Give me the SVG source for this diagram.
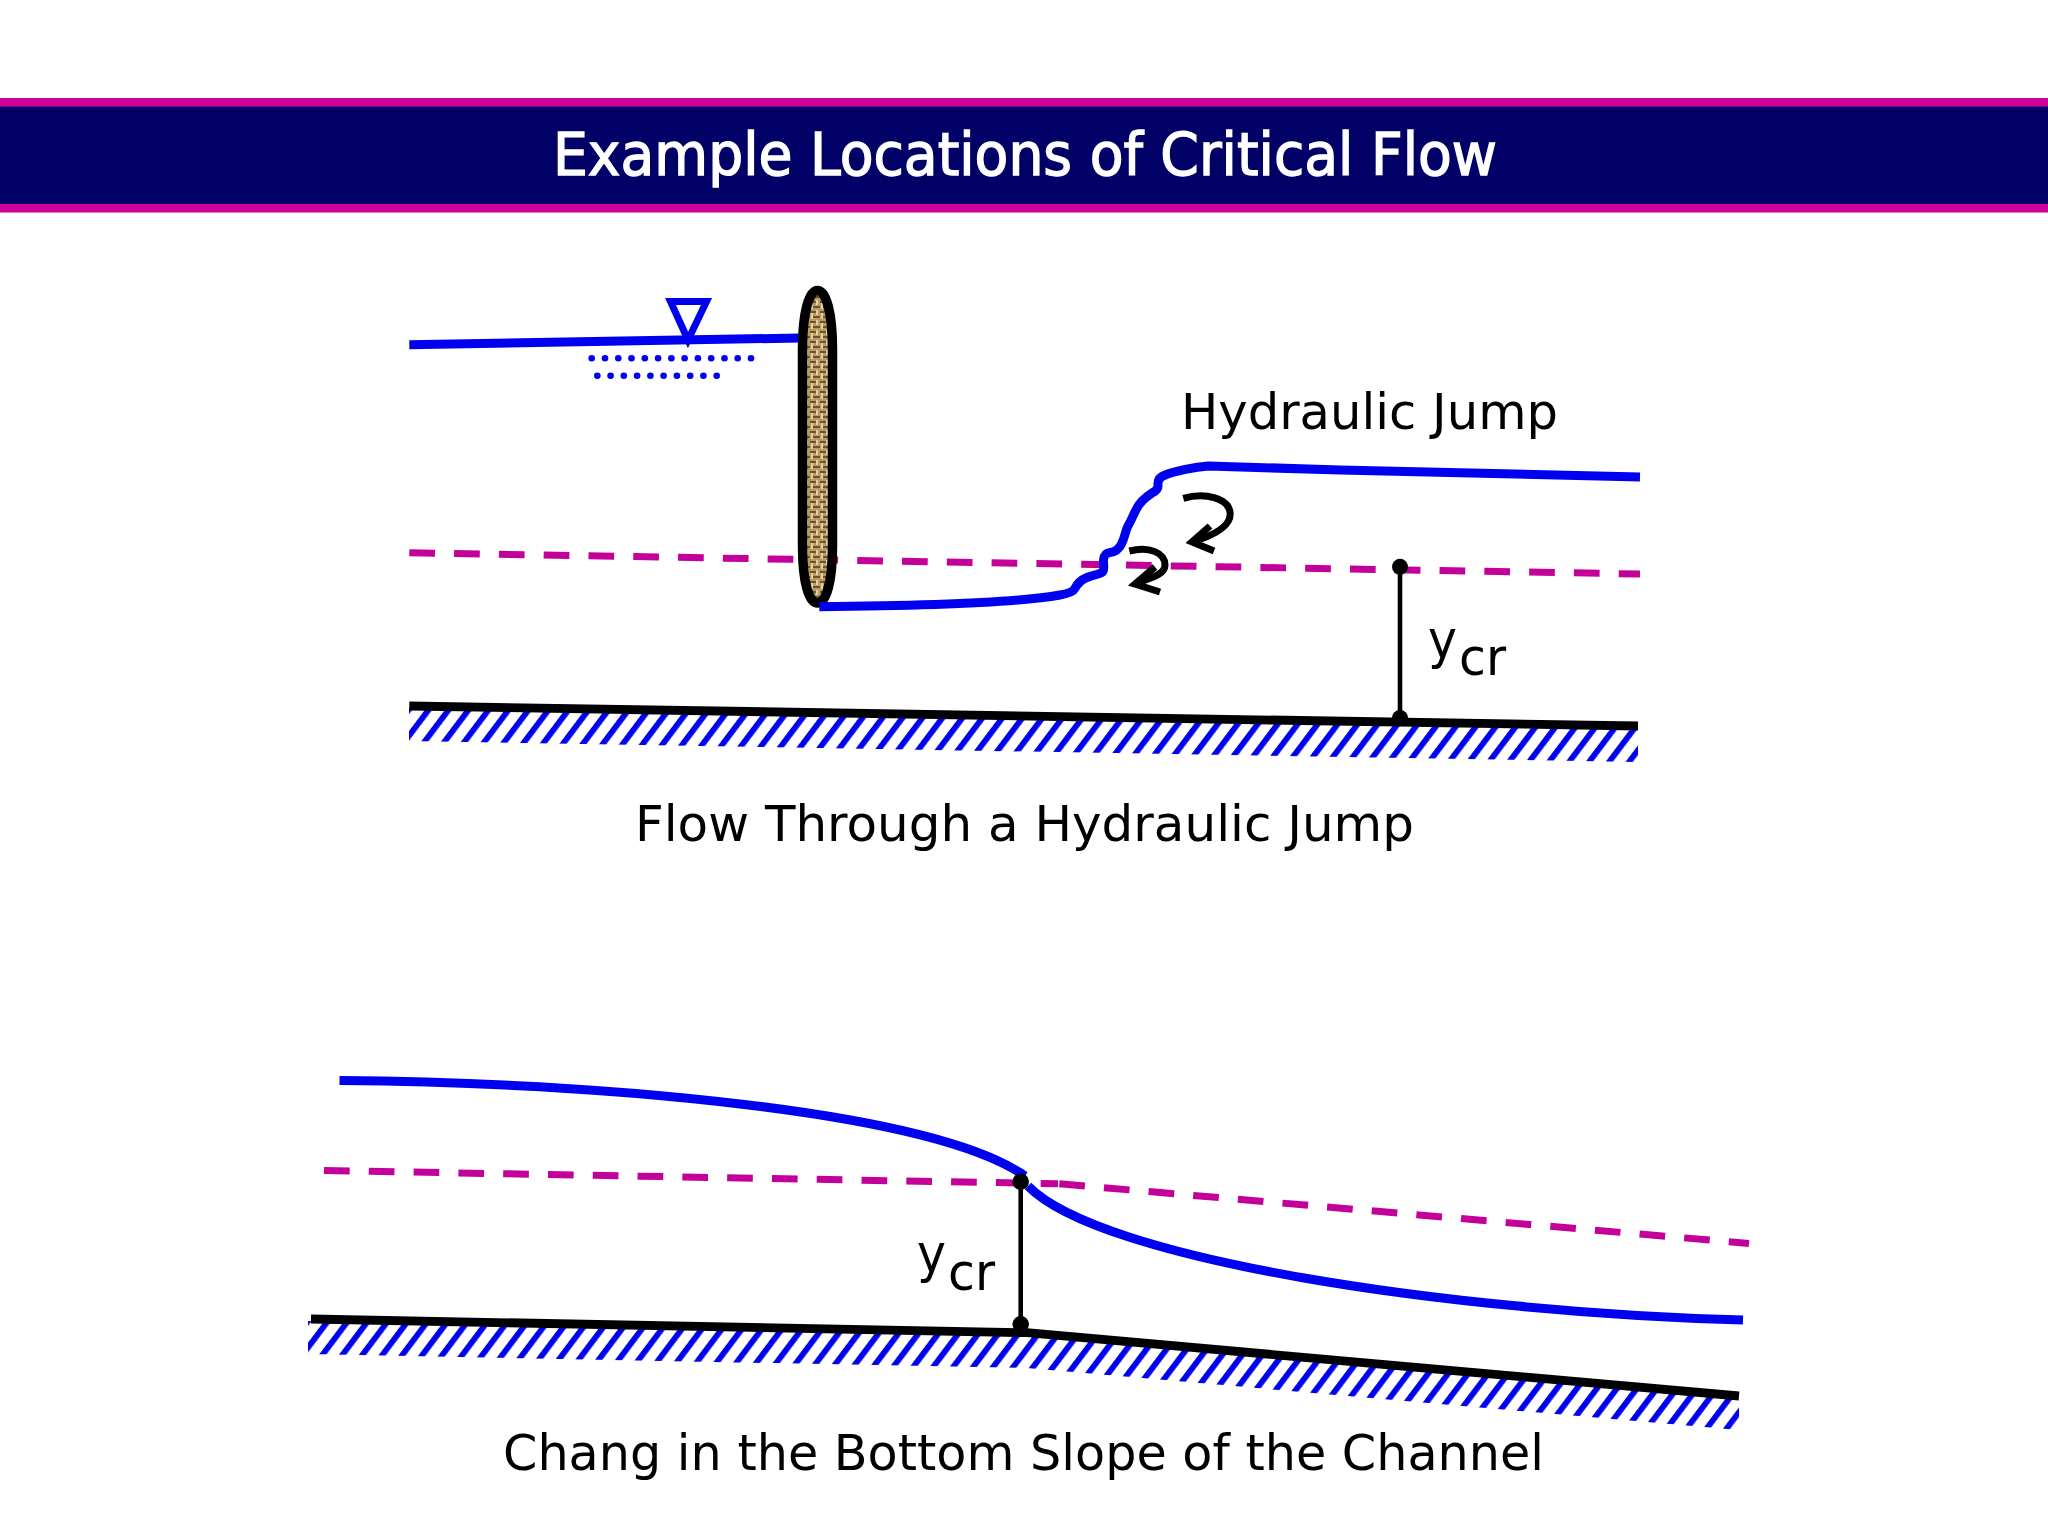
<svg xmlns="http://www.w3.org/2000/svg" width="2048" height="1536" viewBox="0 0 2048 1536">
<style>
text{font-family:"DejaVu Sans","Liberation Sans",sans-serif;fill:#000}
.title{font-size:59px;fill:#fff;stroke:#fff;stroke-width:1.300;font-stretch:condensed}
.lab{font-size:50px}
.ysym{font-size:54px}
.sub{font-size:52px}
.water{fill:none;stroke:#0000f0;stroke-width:9;stroke-linejoin:round}
.dash{fill:none;stroke:#c4009a;stroke-width:7;stroke-dasharray:25.7 19.1}
.bed{fill:none;stroke:#000;stroke-width:8.800}
.dim{fill:none;stroke:#000;stroke-width:4.600}
.swirl{fill:none;stroke:#000;stroke-width:7}
.dot{fill:#0000f0}
</style>
<defs>
<pattern id="hatch" patternUnits="userSpaceOnUse" width="15.970" height="15.970" patternTransform="rotate(37)"><rect width="5.800" height="15.970" fill="#0000f0"/></pattern>
<pattern id="burlap" patternUnits="userSpaceOnUse" width="10" height="10">
<rect width="10" height="10" fill="#bb9a62"/>
<path d="M0 2H6M3 7H10" stroke="#4f3c1e" stroke-width="1.500"/>
<path d="M2 3V9M7 0V5" stroke="#f3e2b6" stroke-width="1.500"/>
</pattern>
</defs>
<rect width="2048" height="1536" fill="#fff"/>
<g id="header">
<rect x="0" y="98" width="2048" height="114.500" fill="#cc0099"/>
<rect x="0" y="106.700" width="2048" height="97.300" fill="#000066"/>
<text class="title" x="553" y="175" textLength="944" lengthAdjust="spacingAndGlyphs">Example Locations of Critical Flow</text>
</g>
<g id="jump-diagram">
<polygon points="409,708 1638,728 1638,762 409,741" fill="url(#hatch)"/>
<path class="bed" d="M409.300,706 L1638,726"/>
<path class="dash" d="M409.300,552.700 L1640,574"/>
<path class="water" d="M409.300,344.700 L800,338"/>
<polygon points="670.500,301.500 706.500,301.500 688,340" fill="none" stroke="#0000f0" stroke-width="7"/>
<g class="dot">
<circle cx="591.700" cy="358.300" r="3.300"/><circle cx="605" cy="358.300" r="3.300"/><circle cx="618.300" cy="358.300" r="3.300"/><circle cx="631.500" cy="358.300" r="3.300"/><circle cx="644.800" cy="358.300" r="3.300"/><circle cx="658.100" cy="358.300" r="3.300"/><circle cx="671.400" cy="358.300" r="3.300"/><circle cx="684.600" cy="358.300" r="3.300"/><circle cx="697.900" cy="358.300" r="3.300"/><circle cx="711.200" cy="358.300" r="3.300"/><circle cx="724.500" cy="358.300" r="3.300"/><circle cx="737.700" cy="358.300" r="3.300"/><circle cx="751" cy="358.300" r="3.300"/>
<circle cx="597.300" cy="375.700" r="3.300"/><circle cx="610.600" cy="375.700" r="3.300"/><circle cx="623.800" cy="375.700" r="3.300"/><circle cx="637.100" cy="375.700" r="3.300"/><circle cx="650.400" cy="375.700" r="3.300"/><circle cx="663.600" cy="375.700" r="3.300"/><circle cx="676.900" cy="375.700" r="3.300"/><circle cx="690.200" cy="375.700" r="3.300"/><circle cx="703.400" cy="375.700" r="3.300"/><circle cx="716.700" cy="375.700" r="3.300"/>
</g>
<path id="gate" d="M817.500,290.500 C826,290.500 832.500,312 832.500,350 L832.500,545 C832.500,583 826,603 817.500,603 C809,603 802.500,583 802.500,545 L802.500,350 C802.500,312 809,290.500 817.500,290.500Z" fill="url(#burlap)" stroke="#000" stroke-width="9.500"/>
<path class="water" d="M819.300,606.700 C900,606 1010,604 1060,595 C1068,593.500 1073,592 1074.500,589 C1077,584 1082,579.500 1087,577.500 C1092,575.500 1100,574 1102.500,572 C1105,570 1103,563 1103.500,560 C1104,555 1106,553 1110,552.500 C1116,552 1119,549 1121.500,544 C1125,537 1125.500,530 1128.500,525 C1132,519 1134,513 1137,508 C1140,502 1146,497 1152,493 C1156,491 1158.500,489 1158,485 C1157.500,480 1160,477 1164,475.500 C1175,471 1195,467 1208.300,466 L1340,470 L1640,477"/>
<path class="swirl" d="M1183.300,498.300 C1205,492 1228,498 1230,512 C1232,525 1215,535 1192,542"/>
<path class="swirl" d="M1210,526 L1192,542 L1214,551"/>
<path class="swirl" d="M1129.300,551 C1150,546 1165,553 1165,565 C1165,575 1150,578 1135,584"/>
<path class="swirl" d="M1155,567 L1135,584 L1160,592"/>
<path class="dim" d="M1400,567 L1400,718"/>
<circle cx="1400" cy="566.800" r="8"/>
<circle cx="1400" cy="718" r="8"/>
<text class="ysym" x="1428" y="658" textLength="29" lengthAdjust="spacingAndGlyphs">y</text>
<text class="sub" x="1459" y="675" textLength="47" lengthAdjust="spacingAndGlyphs">cr</text>
<text class="lab" x="1181" y="429.300" textLength="377" lengthAdjust="spacingAndGlyphs">Hydraulic Jump</text>
<text class="lab" x="635" y="841" textLength="779" lengthAdjust="spacingAndGlyphs">Flow Through a Hydraulic Jump</text>
</g>
<g id="slope-diagram">
<polygon points="308,1321 1027,1335 1739,1398 1739,1430 1027,1368 308,1354" fill="url(#hatch)"/>
<path class="bed" d="M311,1319 L1027,1332.700 L1739,1396"/>
<path class="dash" d="M324,1170.500 L1058,1183.700"/>
<path class="dash" d="M1059.300,1183.800 L1749,1243.500"/>
<path class="water" d="M339.500,1080.500 C600,1083 930,1110 1025,1176"/>
<path class="water" d="M1028,1186 C1100,1260 1450,1312 1743,1320"/>
<path class="dim" d="M1020.700,1182 L1020.700,1324"/>
<circle cx="1020.700" cy="1181.700" r="8.300"/>
<circle cx="1020.700" cy="1324.300" r="8.300"/>
<text class="ysym" x="917" y="1272" textLength="29" lengthAdjust="spacingAndGlyphs">y</text>
<text class="sub" x="948" y="1289.500" textLength="47" lengthAdjust="spacingAndGlyphs">cr</text>
<text class="lab" x="503" y="1470" textLength="1041" lengthAdjust="spacingAndGlyphs">Chang in the Bottom Slope of the Channel</text>
</g>
</svg>
